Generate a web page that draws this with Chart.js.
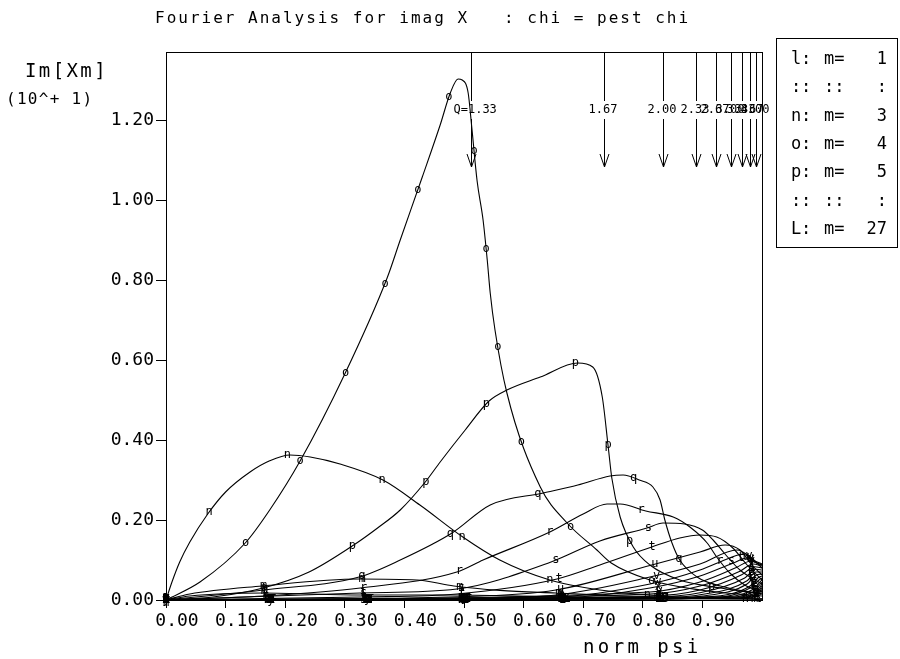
<!DOCTYPE html>
<html>
<head>
<meta charset="utf-8">
<script src="https://cdn.jsdelivr.net/npm/chart.js@4.4.1/dist/chart.umd.min.js"></script>
<style>
html, body { margin: 0; padding: 0; background: #fff; }
</style>
</head>
<body>
<canvas id="fourierChart" width="900" height="659"></canvas>
<script>
// harmonic numbers and the letter each curve is marked with
const modeNumbers = [1, 2, 3, 4, 5, 6, 7, 8, 9, 10, 11, 12, 13, 14, 15, 16, 17, 18, 19, 20, 21, 22, 23, 24, 25, 26, 27];
const markerLetters = ['l', 'm', 'n', 'o', 'p', 'q', 'r', 's', 't', 'u', 'v', 'w', 'x', 'y', 'z',
                       'A', 'B', 'C', 'D', 'E', 'F', 'G', 'H', 'I', 'J', 'K', 'L'];

// [norm psi, Im[Xm]] (units of 10^+1)
const curve_l = [[0, 0], [0.04, 0.01], [0.163, 0.0175], [0.326, 0.0125], [0.488, 0.0125], [0.654, 0.0075], [0.815, 0.004], [1.0, 0.002]];
const curve_m = [[0, 0], [0.04, 0.015], [0.161, 0.035], [0.324, 0.0525], [0.421, 0.05], [0.483, 0.035], [0.56, 0.024], [0.654, 0.0175], [0.815, 0.008], [1.0, 0.003]];
const curve_n = [[0, 0], [0.01, 0.045], [0.023, 0.095], [0.04, 0.145], [0.07, 0.215], [0.10, 0.27], [0.141, 0.32], [0.174, 0.348], [0.208, 0.3625], [0.242, 0.3575], [0.292, 0.34], [0.364, 0.30], [0.426, 0.2375], [0.498, 0.1575], [0.56, 0.10], [0.644, 0.05], [0.728, 0.025], [0.812, 0.0125], [0.896, 0.005], [1.0, 0.0025]];
const curve_o = [[0, 0], [0.057, 0.045], [0.133, 0.1425], [0.174, 0.225], [0.225, 0.3475], [0.30, 0.565], [0.371, 0.805], [0.393, 0.90], [0.43, 1.0575], [0.46, 1.1875], [0.477, 1.2675], [0.49, 1.3025], [0.497, 1.30], [0.507, 1.2675], [0.513, 1.1825], [0.522, 1.0475], [0.532, 0.95], [0.539, 0.85], [0.544, 0.7675], [0.552, 0.675], [0.572, 0.5175], [0.628, 0.2825], [0.673, 0.1925], [0.723, 0.125], [0.747, 0.0925], [0.812, 0.05], [0.896, 0.025], [1.0, 0.01]];
const curve_p = [[0, 0], [0.082, 0.008], [0.163, 0.03], [0.24, 0.07], [0.315, 0.1375], [0.355, 0.18], [0.393, 0.225], [0.435, 0.295], [0.46, 0.345], [0.502, 0.425], [0.542, 0.4975], [0.572, 0.525], [0.628, 0.5575], [0.691, 0.5925], [0.716, 0.5825], [0.732, 0.5075], [0.742, 0.3825], [0.748, 0.305], [0.762, 0.2075], [0.784, 0.1325], [0.812, 0.0875], [0.862, 0.05], [0.93, 0.03], [1.0, 0.015]];
const curve_q = [[0, 0], [0.163, 0.025], [0.324, 0.0575], [0.393, 0.10], [0.48, 0.1675], [0.544, 0.2375], [0.633, 0.2675], [0.691, 0.2875], [0.745, 0.31], [0.767, 0.3125], [0.794, 0.30], [0.817, 0.2825], [0.829, 0.25], [0.837, 0.20], [0.849, 0.1425], [0.862, 0.10], [0.891, 0.0575], [0.93, 0.035], [1.0, 0.015]];
const curve_r = [[0, 0], [0.163, 0.01], [0.326, 0.03], [0.488, 0.07], [0.532, 0.10], [0.644, 0.17], [0.70, 0.215], [0.74, 0.24], [0.762, 0.24], [0.805, 0.2225], [0.851, 0.2075], [0.879, 0.1825], [0.908, 0.1425], [0.924, 0.1075], [0.946, 0.0675], [0.971, 0.0375], [1.0, 0.02]];
const curve_s = [[0, 0], [0.326, 0.0175], [0.488, 0.0275], [0.646, 0.095], [0.728, 0.1475], [0.807, 0.18], [0.834, 0.1925], [0.87, 0.19], [0.90, 0.175], [0.918, 0.15], [0.938, 0.115], [0.963, 0.075], [1.0, 0.04]];
const curve_t = [[0, 0], [0.326, 0.0075], [0.488, 0.015], [0.656, 0.0525], [0.728, 0.0875], [0.815, 0.1325], [0.862, 0.155], [0.896, 0.1625], [0.924, 0.1575], [0.951, 0.13], [0.975, 0.0875], [1.0, 0.05]];
const curve_u = [[0, 0], [0.488, 0.008], [0.654, 0.025], [0.815, 0.0875], [0.896, 0.12], [0.938, 0.1375], [0.963, 0.125], [0.983, 0.0875], [1.0, 0.0625]];
const curve_v = [[0, 0], [0.488, 0.004], [0.654, 0.0125], [0.812, 0.0575], [0.896, 0.09], [0.958, 0.125], [0.98, 0.108], [1.0, 0.08]];
const curve_w = [[0, 0], [0.654, 0.008], [0.812, 0.04], [0.896, 0.075], [0.946, 0.105], [0.968, 0.115], [0.988, 0.095], [1.0, 0.0875]];
const curve_x = [[0, 0], [0.654, 0.005], [0.812, 0.03], [0.896, 0.06], [0.951, 0.092], [0.975, 0.105], [0.992, 0.095], [1.0, 0.09]];
const curve_y = [[0, 0], [0.812, 0.02], [0.896, 0.045], [0.958, 0.082], [0.98, 0.097], [1.0, 0.0875]];
const curve_z = [[0, 0], [0.812, 0.015], [0.896, 0.035], [0.963, 0.072], [0.985, 0.09], [1.0, 0.085]];
const curve_A = [[0, 0], [0.812, 0.01], [0.896, 0.025], [0.966, 0.063], [0.988, 0.083], [1.0, 0.08]];
const curve_B = [[0, 0], [0.812, 0.007], [0.896, 0.018], [0.971, 0.055], [0.99, 0.077], [1.0, 0.075]];
const curve_C = [[0, 0], [0.815, 0.005], [0.896, 0.013], [0.975, 0.048], [0.99, 0.07], [1.0, 0.07]];
const curve_D = [[0, 0], [0.815, 0.003], [0.896, 0.009], [0.975, 0.04], [0.99, 0.062], [1.0, 0.065]];
const curve_E = [[0, 0], [0.815, 0.002], [0.896, 0.006], [0.98, 0.035], [0.993, 0.055], [1.0, 0.06]];
const curve_F = [[0, 0], [0.896, 0.004], [0.98, 0.03], [0.995, 0.05], [1.0, 0.055]];
const curve_G = [[0, 0], [0.93, 0.008], [0.983, 0.025], [1.0, 0.05]];
const curve_H = [[0, 0], [0.93, 0.006], [0.985, 0.02], [1.0, 0.045]];
const curve_I = [[0, 0], [0.95, 0.007], [0.988, 0.017], [1.0, 0.04]];
const curve_J = [[0, 0], [0.95, 0.005], [0.99, 0.014], [1.0, 0.035]];
const curve_K = [[0, 0], [0.96, 0.005], [0.992, 0.012], [1.0, 0.03]];
const curve_L = [[0, 0], [0.96, 0.004], [0.995, 0.01], [1.0, 0.025]];

const curves = [curve_l, curve_m, curve_n, curve_o, curve_p, curve_q, curve_r, curve_s, curve_t,
                curve_u, curve_v, curve_w, curve_x, curve_y, curve_z, curve_A, curve_B, curve_C,
                curve_D, curve_E, curve_F, curve_G, curve_H, curve_I, curve_J, curve_K, curve_L];

// rational surfaces marked with arrows along the top
const qLabels = ['Q=1.33', '1.67', '2.00', '2.33', '2.67', '3.00', '3.33', '3.67', '4.00'];
const qPsi = [0.511, 0.735, 0.834, 0.889, 0.923, 0.948, 0.966, 0.980, 0.990];

const xTickValues = [0, 0.1, 0.2, 0.3, 0.4, 0.5, 0.6, 0.7, 0.8, 0.9];
const yTickValues = [0, 0.2, 0.4, 0.6, 0.8, 1.0, 1.2];

const legendRows = [['l', ':', 'm=', '1'], [':', ':', '::', ':'], ['n', ':', 'm=', '3'], ['o', ':', 'm=', '4'],
                    ['p', ':', 'm=', '5'], [':', ':', '::', ':'], ['L', ':', 'm=', '27']];

const MONO = 'DejaVu Sans Mono';
const INK = '#000';

function spacedText(ctx, str, x, y, size, spacing, align) {
    ctx.font = size + 'px "' + MONO + '"';
    ctx.letterSpacing = spacing + 'px';
    ctx.textAlign = align || 'left';
    ctx.fillText(str, x, y);
    ctx.letterSpacing = '0px';
}

function bez(a, c1, c2, b, t) {
    const u = 1 - t;
    return {
        x: u * u * u * a.x + 3 * u * u * t * c1.x + 3 * u * t * t * c2.x + t * t * t * b.x,
        y: u * u * u * a.y + 3 * u * u * t * c1.y + 3 * u * t * t * c2.y + t * t * t * b.y
    };
}

const decorPlugin = {
    id: 'decor',
    afterDatasetsDraw(chart) {
        const ctx = chart.ctx;
        const area = chart.chartArea;
        const gap = 98.5;
        ctx.save();
        ctx.beginPath();
        ctx.rect(area.left - 6, area.top, area.right - area.left + 12, area.bottom - area.top + 6);
        ctx.clip();
        ctx.fillStyle = INK;
        ctx.font = '12px "' + MONO + '"';
        ctx.textAlign = 'center';
        ctx.textBaseline = 'middle';
        chart.data.datasets.forEach((ds, i) => {
            const pts = chart.getDatasetMeta(i).data;
            const letter = markerLetters[i];
            ctx.fillText(letter, pts[0].x, pts[0].y);
            let run = 0;
            for (let k = 0; k < pts.length - 1; k++) {
                const a = pts[k], b = pts[k + 1];
                const c1 = { x: a.cp2x ?? a.x, y: a.cp2y ?? a.y };
                const c2 = { x: b.cp1x ?? b.x, y: b.cp1y ?? b.y };
                let prev = { x: a.x, y: a.y };
                for (let s = 1; s <= 60; s++) {
                    const q = bez(a, c1, c2, b, s / 60);
                    run += Math.hypot(q.x - prev.x, q.y - prev.y);
                    if (run >= gap) {
                        ctx.fillText(letter, q.x, q.y);
                        run -= gap;
                    }
                    prev = q;
                }
            }
        });
        ctx.restore();
    },
    afterDraw(chart) {
        const ctx = chart.ctx;
        const area = chart.chartArea;
        const xs = chart.scales.x;
        ctx.save();
        ctx.strokeStyle = INK;
        ctx.fillStyle = INK;
        ctx.lineWidth = 1;

        // frame
        ctx.strokeRect(area.left + 0.5, area.top + 0.5, area.right - area.left, area.bottom - area.top);

        // arrows at the rational surfaces
        ctx.textBaseline = 'middle';
        qPsi.forEach((psi, i) => {
            const px = Math.round(xs.getPixelForValue(psi)) + 0.5;
            ctx.beginPath();
            ctx.moveTo(px, area.top);
            ctx.lineTo(px, area.top + 49);
            ctx.moveTo(px, area.top + 67);
            ctx.lineTo(px, area.top + 115);
            ctx.moveTo(px - 4.5, area.top + 102);
            ctx.lineTo(px, area.top + 115);
            ctx.lineTo(px + 4.5, area.top + 102);
            ctx.stroke();
            spacedText(ctx, qLabels[i], px - (i === 0 ? 18 : 16), area.top + 58, 12, 0, 'left');
        });

        // title and axis titles
        ctx.textBaseline = 'alphabetic';
        spacedText(ctx, 'Fourier Analysis for imag X   : chi = pest chi', 155, 23, 16, 2.0, 'left');
        spacedText(ctx, 'Im[Xm]', 25, 77, 19, 2.4, 'left');
        spacedText(ctx, '(10^+ 1)', 6, 104, 16, 1.3, 'left');
        spacedText(ctx, 'norm psi', 583, 653, 19, 3.4, 'left');

        // legend box
        ctx.strokeRect(776.5, 38.5, 121, 209);
        ctx.textBaseline = 'middle';
        const rowY = [60, 88, 117, 145, 173, 202, 230];
        legendRows.forEach((row, r) => {
            const y = rowY[r];
            spacedText(ctx, row[0], 796, y, 17, 0, 'center');
            spacedText(ctx, row[1], 806, y, 17, 0, 'center');
            spacedText(ctx, row[2], 824, y, 17, 0, 'left');
            spacedText(ctx, row[3], 887, y, 17, 0, 'right');
        });
        ctx.restore();
    }
};

const datasets = curves.map((c, i) => ({
    label: markerLetters[i] + ': m= ' + modeNumbers[i],
    data: c.map(p => ({ x: p[0], y: p[1] })),
    borderColor: INK,
    borderWidth: 1.1,
    pointRadius: 0,
    fill: false,
    cubicInterpolationMode: 'monotone'
}));

const ctx = document.getElementById('fourierChart').getContext('2d');
new Chart(ctx, {
    type: 'line',
    data: { datasets: datasets },
    options: {
        responsive: false,
        animation: false,
        devicePixelRatio: 1,
        layout: { padding: { left: 0, right: 138, top: 52, bottom: 0 } },
        plugins: {
            legend: { display: false },
            tooltip: { enabled: false },
            title: { display: false }
        },
        scales: {
            x: {
                type: 'linear',
                min: 0,
                max: 1,
                afterBuildTicks: s => { s.ticks = xTickValues.map(v => ({ value: v })); },
                afterFit: s => { s.height = 59; },
                ticks: {
                    callback: v => v.toFixed(2),
                    font: { family: MONO, size: 18 },
                    color: INK,
                    labelOffset: 11,
                    padding: 3,
                    maxRotation: 0,
                    autoSkip: false
                },
                grid: { drawOnChartArea: false, drawTicks: true, tickLength: 8, color: INK },
                border: { display: true, color: INK, width: 1 }
            },
            y: {
                type: 'linear',
                min: 0,
                max: 1.37,
                afterBuildTicks: s => { s.ticks = yTickValues.map(v => ({ value: v })); },
                afterFit: s => { s.width = 166; },
                ticks: {
                    callback: v => v.toFixed(2),
                    font: { family: MONO, size: 18 },
                    color: INK,
                    padding: 2
                },
                grid: { drawOnChartArea: false, drawTicks: true, tickLength: 10, color: INK },
                border: { display: true, color: INK, width: 1 }
            }
        }
    },
    plugins: [decorPlugin]
});
</script>
</body>
</html>
